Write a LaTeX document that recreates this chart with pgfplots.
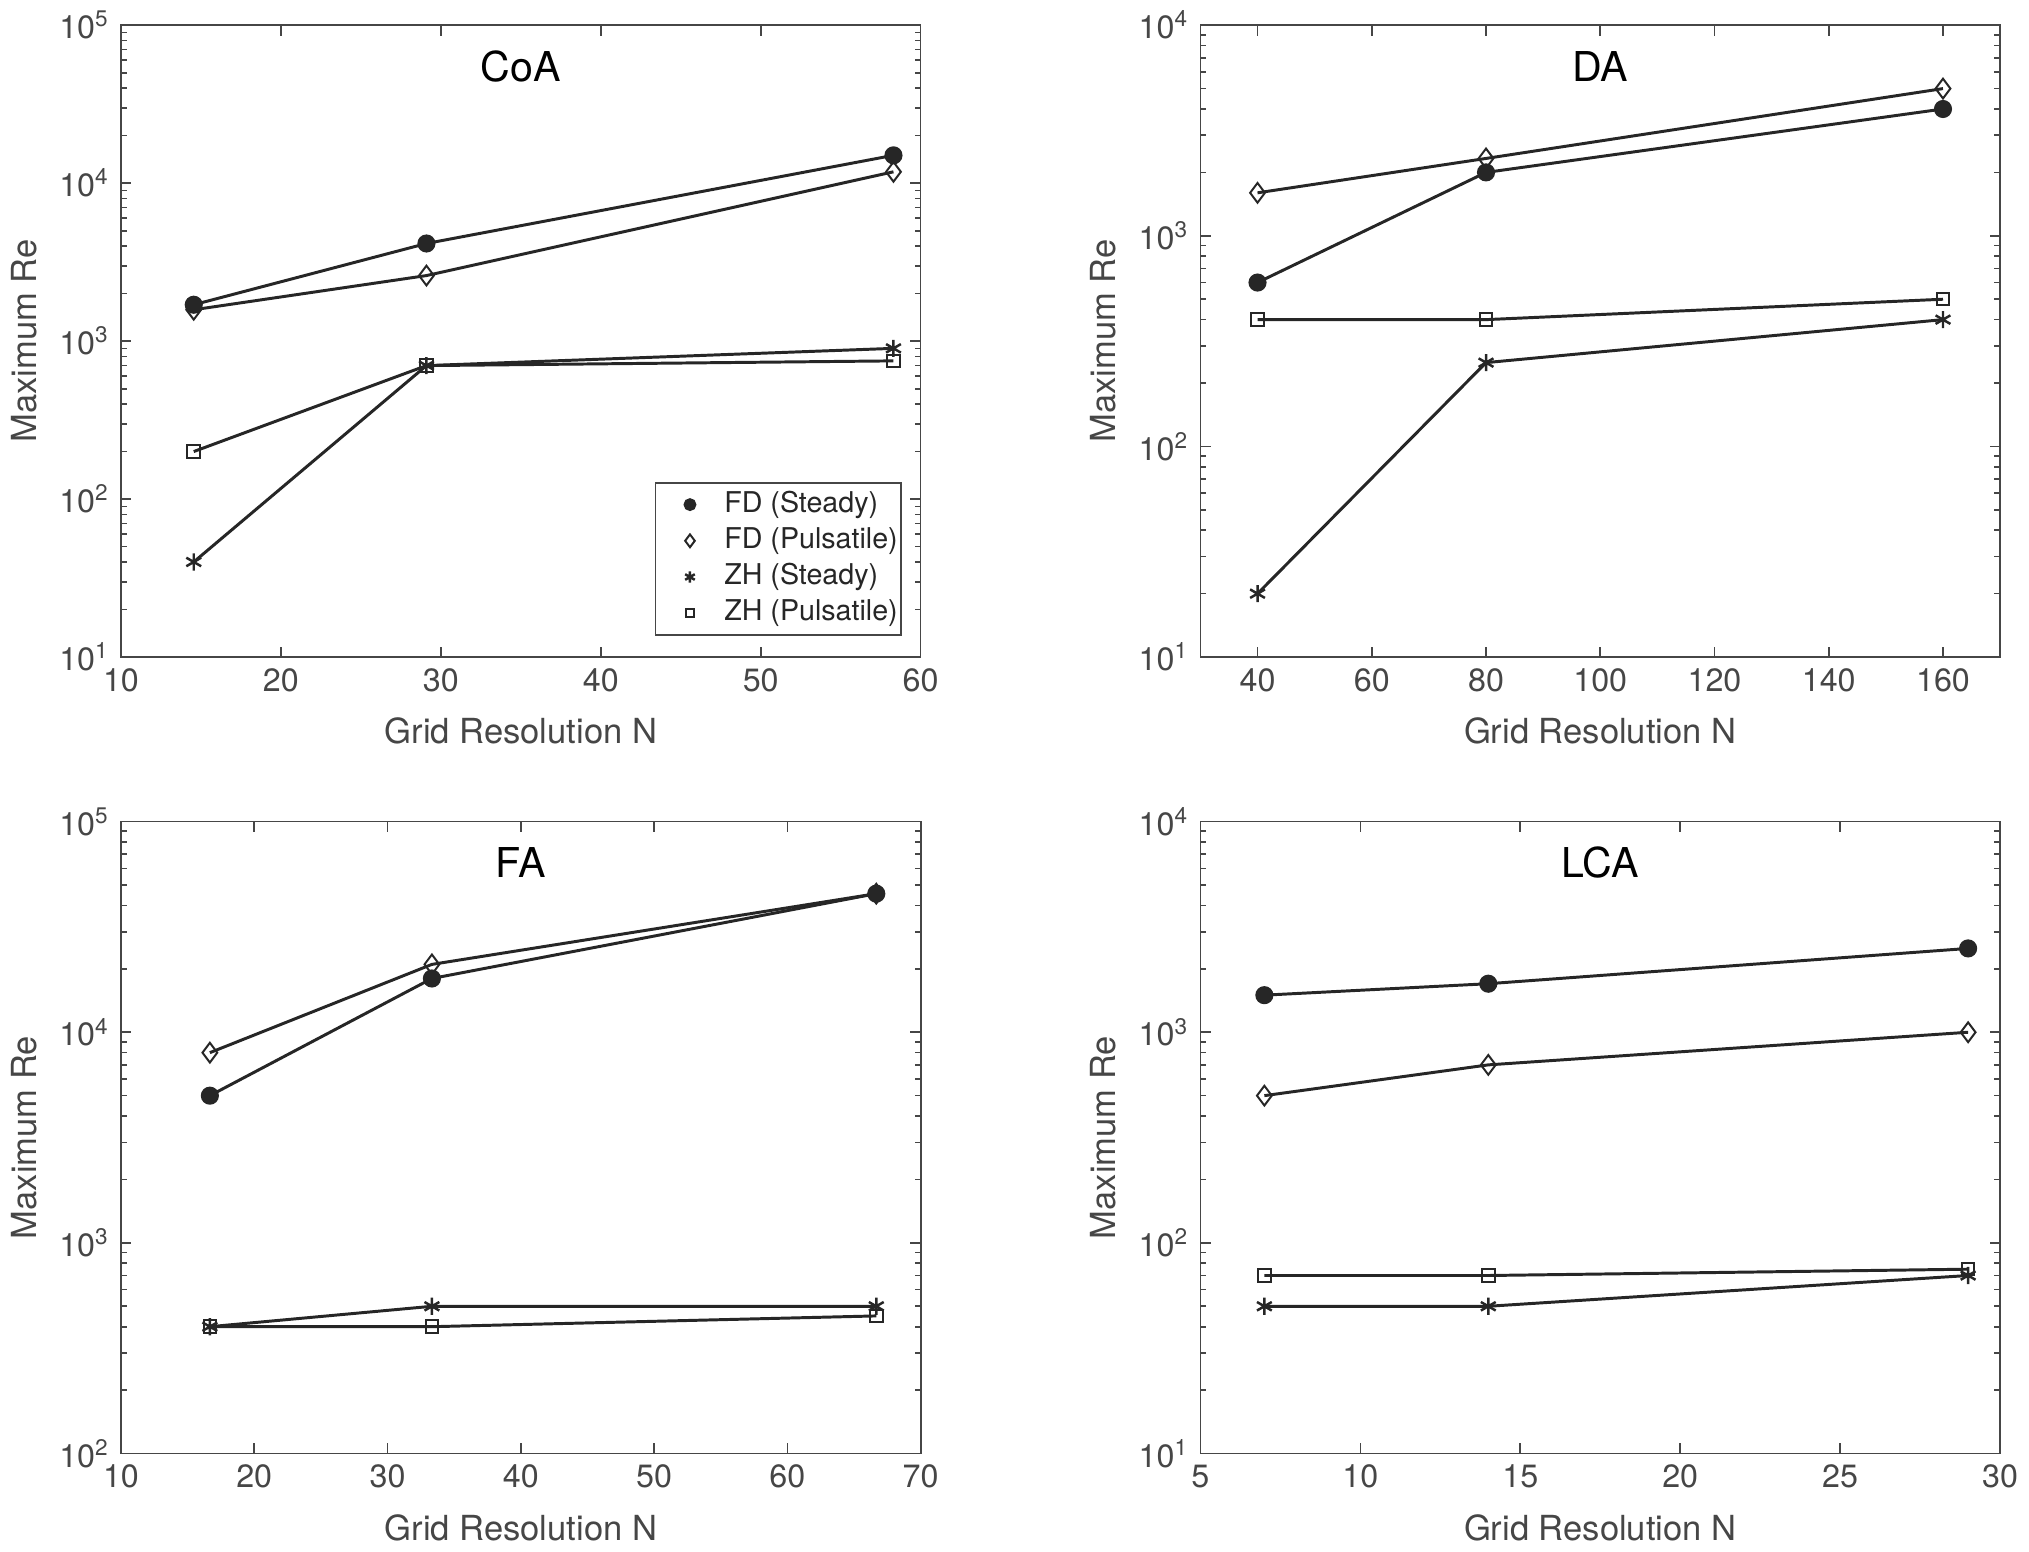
\documentclass[border=0pt]{standalone}
\usepackage{fontspec}
\setmainfont{TeX Gyre Heros}
\usepackage{pgfplots}
\pgfplotsset{compat=1.18}
\usepgfplotslibrary{groupplots}

\definecolor{axgray}{RGB}{70,70,70}
\definecolor{linedark}{RGB}{38,38,38}

\pgfplotsset{
  fds/.style={color=linedark, line width=0.9pt, mark=*, mark size=2.3pt, mark options={solid, fill=linedark}},
  fdp/.style={color=linedark, line width=0.9pt, mark=diamond, mark size=3pt, mark options={solid, line width=0.6pt}},
  zhs/.style={color=linedark, line width=0.9pt, mark=asterisk, mark size=2.6pt, mark options={solid, line width=0.75pt}},
  zhp/.style={color=linedark, line width=0.9pt, mark=square, mark size=1.9pt, mark options={solid, line width=0.6pt}},
}
\tikzset{paneltitle/.style={font=\fontsize{12.5}{15}\selectfont, text=black}}

\begin{document}
\begin{tikzpicture}
\begin{groupplot}[
    group style={group size=2 by 2, horizontal sep=85pt, vertical sep=50pt},
    scale only axis,
    width=243pt, height=192pt,
    ymode=log,
    axis line style={axgray, line width=0.5pt},
    every tick/.style={axgray, line width=0.5pt},
    major tick length=3.2pt, minor tick length=1.8pt,
    tick label style={font=\fontsize{9.8}{12}\selectfont, text=axgray},
    /pgf/number format/assume math mode=true,
    log number format basis/.code 2 args={#1\textsuperscript{\pgfmathprintnumber[assume math mode=true]{#2}}},
    label style={font=\fontsize{10.5}{13}\selectfont, text=axgray},
    xlabel={Grid Resolution N},
    ylabel={Maximum Re},
    xlabel style={yshift=-1pt},
    legend style={draw=axgray, line width=0.5pt, font=\fontsize{8.7}{10}\selectfont, text=linedark,
                  row sep=0.9pt, inner xsep=0pt, inner ysep=1.5pt,
                  nodes={inner ysep=0.8pt, inner xsep=1pt, text height=6.5pt, text depth=2pt}},
    legend cell align=left,
    legend image code/.code={\path (0pt,0pt) (19pt,0pt);
        \draw[#1, only marks, /tikz/every mark/.append style={scale=0.65}] plot coordinates {(10pt,0pt)};},
]

% CoA
\nextgroupplot[xmin=10, xmax=60, xtick={10,20,...,60}, ymin=10, ymax=100000,
    legend style={at={(rel axis cs:0.9765,0.034)}, anchor=south east}]
\addplot[fds] coordinates {(14.55,1700) (29.1,4150) (58.3,15000)};
\addplot[fdp] coordinates {(14.55,1580) (29.1,2600) (58.3,11800)};
\addplot[zhs] coordinates {(14.55,40) (29.1,700) (58.3,900)};
\addplot[zhp] coordinates {(14.55,200) (29.1,700) (58.3,750)};
\node[paneltitle] at (rel axis cs:0.5,0.935) {CoA};
\legend{FD (Steady), FD (Pulsatile), ZH (Steady), ZH (Pulsatile)}

% DA
\nextgroupplot[xmin=30, xmax=170, xtick={40,60,...,160}, ymin=10, ymax=10000]
\addplot[fds] coordinates {(40,600) (80,2000) (160,4000)};
\addplot[fdp] coordinates {(40,1600) (80,2330) (160,5000)};
\addplot[zhs] coordinates {(40,20) (80,250) (160,400)};
\addplot[zhp] coordinates {(40,400) (80,400) (160,500)};
\node[paneltitle] at (rel axis cs:0.5,0.935) {DA};

% FA
\nextgroupplot[xmin=10, xmax=70, xtick={10,20,...,70}, ymin=100, ymax=100000]
\addplot[fds] coordinates {(16.67,5000) (33.33,18000) (66.67,45500)};
\addplot[fdp] coordinates {(16.67,8000) (33.33,21000) (66.67,45500)};
\addplot[zhs] coordinates {(16.67,400) (33.33,500) (66.67,500)};
\addplot[zhp] coordinates {(16.67,400) (33.33,400) (66.67,450)};
\node[paneltitle] at (rel axis cs:0.5,0.935) {FA};

% LCA
\nextgroupplot[xmin=5, xmax=30, xtick={5,10,...,30}, ymin=10, ymax=10000]
\addplot[fds] coordinates {(7,1500) (14,1700) (29,2500)};
\addplot[fdp] coordinates {(7,500) (14,700) (29,1000)};
\addplot[zhs] coordinates {(7,50) (14,50) (29,70)};
\addplot[zhp] coordinates {(7,70) (14,70) (29,75)};
\node[paneltitle] at (rel axis cs:0.5,0.935) {LCA};

\end{groupplot}
\end{tikzpicture}
\end{document}
